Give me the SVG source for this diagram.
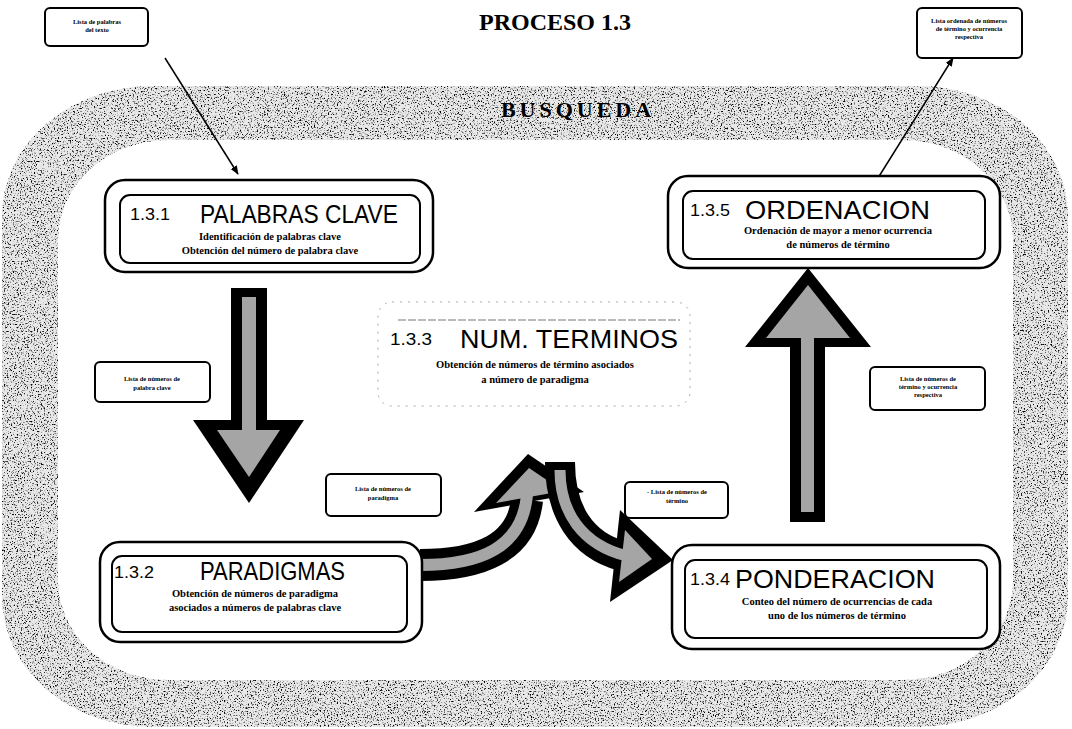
<svg xmlns="http://www.w3.org/2000/svg" width="1072" height="729" viewBox="0 0 1072 729">
<defs>
  <filter id="grain" x="0" y="0" width="1072" height="729" filterUnits="userSpaceOnUse">
    <feTurbulence type="fractalNoise" baseFrequency="0.7" numOctaves="3" seed="7"/>
    <feColorMatrix type="matrix" values="0 0 0 0 0  0 0 0 0 0  0 0 0 0 0  5 0 0 0 -2.75"/>
  </filter>
  <clipPath id="ring">
    <path clip-rule="evenodd" d="M150,86 H918 A150,130 0 0 1 1068,216 V597 A150,130 0 0 1 918,727 H152 A150,130 0 0 1 2,597 V216 A150,130 0 0 1 150,86 Z M168,140 A110,100 0 0 0 58,240 V580 A110,100 0 0 0 168,680 H903 A110,100 0 0 0 1013,580 V240 A110,100 0 0 0 903,140 Z"/>
  </clipPath>
  <marker id="ah" viewBox="0 0 10 10" refX="9" refY="5" markerWidth="9" markerHeight="9" orient="auto" markerUnits="userSpaceOnUse">
    <path d="M0,1 L10,5 L0,9 Z" fill="#000"/>
  </marker>
  <style>
    .outer{fill:#fff;stroke:#000;stroke-width:2.5}
    .inner{fill:none;stroke:#000;stroke-width:2}
    .num{font-family:"Liberation Sans",Arial,sans-serif;font-size:17px;fill:#000}
    .ttl{font-family:"Liberation Sans",Arial,sans-serif;font-size:26px;fill:#000}
    .sub{font-family:"Liberation Serif","Times New Roman",serif;font-size:10.5px;font-weight:bold;fill:#000;text-anchor:middle}
    .lbl{fill:#fff;stroke:#000;stroke-width:2}
    .lt{font-family:"Liberation Serif","Times New Roman",serif;font-size:6.5px;font-weight:bold;fill:#000;text-anchor:middle}
    .blk{fill:#000}
    .gry{fill:#a5a5a5}
  </style>
</defs>
<rect width="1072" height="729" fill="#fff"/>
<!-- speckled frame -->
<g clip-path="url(#ring)">
  <rect width="1072" height="729" fill="#e8e8e8"/>
  <rect width="1072" height="729" fill="#000" filter="url(#grain)"/>
</g>
<text x="555" y="30" font-family="Liberation Serif, Times New Roman, serif" font-size="24" font-weight="bold" text-anchor="middle">PROCESO 1.3</text>
<text x="578" y="117" font-family="Liberation Serif, Times New Roman, serif" font-size="22" font-weight="bold" letter-spacing="4" text-anchor="middle">BUSQUEDA</text>

<!-- connectors -->
<g id="connectors">
  <line x1="165" y1="58" x2="238" y2="174" stroke="#000" stroke-width="1.5" marker-end="url(#ah)"/>
  <line x1="878" y1="178" x2="953" y2="58" stroke="#000" stroke-width="1.5" marker-end="url(#ah)"/>
  <g id="arrow-down">
    <polygon class="blk" points="231,288 267,288 267,420 304,420 249,503 193,420 231,420"/>
    <polygon class="gry" points="242,297 256,297 256,430 280,430 249,477 217,430 242,430"/>
  </g>
  <g id="arrow-up">
    <polygon class="blk" points="790,522 825,522 825,347 871,347 808,268 745,347 790,347"/>
    <polygon class="gry" points="801,512 814,512 814,338 850,338 808,285 766,338 801,338"/>
  </g>
  <g id="arrow-curve1">
    <path d="M420,565 C480,565 522,548 527,500" fill="none" stroke="#000" stroke-width="32"/>
    <polygon class="blk" points="474,512 584,492 528,454"/>
    <path d="M420,565 C480,565 522,548 527,495" fill="none" stroke="#a5a5a5" stroke-width="12"/>
    <polygon class="gry" points="496,503 563,491 529,468"/>
  </g>
  <g id="arrow-curve2">
    <path d="M560,462 C560,512 582,545 622,556" fill="none" stroke="#000" stroke-width="30"/>
    <polygon class="blk" points="620,510 673,560 610,602"/>
    <path d="M560,470 C560,512 582,545 627,556" fill="none" stroke="#a5a5a5" stroke-width="11"/>
    <polygon class="gry" points="625,530 652,559 619,582"/>
  </g>
</g>

<!-- label boxes -->
<g id="lbl-palabras-texto">
  <rect class="lbl" x="45" y="8" width="103" height="38" rx="5"/>
  <text class="lt" x="97" y="24">Lista de palabras</text>
  <text class="lt" x="97" y="32">del texto</text>
</g>
<g id="lbl-ordenada">
  <rect class="lbl" x="917" y="8" width="105" height="50" rx="5"/>
  <text class="lt" x="969" y="23">Lista ordenada de números</text>
  <text class="lt" x="969" y="31">de término y ocurrencia</text>
  <text class="lt" x="969" y="39">respectiva</text>
</g>
<g id="lbl-num-palabra">
  <rect class="lbl" x="95" y="362" width="115" height="40" rx="5"/>
  <text class="lt" x="152" y="381">Lista de números de</text>
  <text class="lt" x="152" y="390">palabra clave</text>
</g>
<g id="lbl-num-paradigma">
  <rect class="lbl" x="326" y="474" width="115" height="42" rx="5"/>
  <text class="lt" x="383" y="491">Lista de números de</text>
  <text class="lt" x="383" y="500">paradigma</text>
</g>
<g id="lbl-num-termino">
  <rect class="lbl" x="625" y="482" width="103" height="36" rx="5"/>
  <text class="lt" x="677" y="494">- Lista de números de</text>
  <text class="lt" x="677" y="503">término</text>
</g>
<g id="lbl-num-ocurrencia">
  <rect class="lbl" x="870" y="367" width="115" height="43" rx="5"/>
  <text class="lt" x="928" y="381">Lista de números de</text>
  <text class="lt" x="928" y="389">término y ocurrencia</text>
  <text class="lt" x="928" y="397">respectiva</text>
</g>

<!-- nodes -->
<g id="node-131">
  <rect class="outer" x="105" y="180" width="328" height="92" rx="20"/>
  <rect class="inner" x="120" y="195" width="300" height="68" rx="10"/>
  <text class="num" x="130" y="220" textLength="40" lengthAdjust="spacingAndGlyphs">1.3.1</text>
  <text class="ttl" x="200" y="223" textLength="198" lengthAdjust="spacingAndGlyphs">PALABRAS CLAVE</text>
  <text class="sub" x="270" y="240">Identificación de palabras clave</text>
  <text class="sub" x="270" y="254">Obtención del número de palabra clave</text>
</g>
<g id="node-135">
  <rect class="outer" x="668" y="176" width="332" height="92" rx="20"/>
  <rect class="inner" x="683" y="191" width="302" height="68" rx="10"/>
  <text class="num" x="690" y="216" textLength="40" lengthAdjust="spacingAndGlyphs">1.3.5</text>
  <text class="ttl" x="745" y="219" textLength="185" lengthAdjust="spacingAndGlyphs">ORDENACION</text>
  <text class="sub" x="838" y="234">Ordenación de mayor a menor ocurrencia</text>
  <text class="sub" x="838" y="248">de números de término</text>
</g>
<g id="node-133">
  <rect x="378" y="302" width="312" height="104" rx="14" fill="#fff" stroke="#aaa" stroke-width="1" stroke-dasharray="2 6"/>
  <line x1="398" y1="320" x2="680" y2="320" stroke="#777" stroke-width="1" stroke-dasharray="8 2"/>
  <text class="num" x="390" y="345" textLength="42" lengthAdjust="spacingAndGlyphs">1.3.3</text>
  <text class="ttl" x="460" y="348" font-size="28" textLength="218" lengthAdjust="spacingAndGlyphs">NUM. TERMINOS</text>
  <text class="sub" x="535" y="368">Obtención de números de término asociados</text>
  <text class="sub" x="535" y="383">a número de paradigma</text>
</g>
<g id="node-132">
  <rect class="outer" x="100" y="542" width="322" height="100" rx="20"/>
  <rect class="inner" x="112" y="556" width="295" height="76" rx="10"/>
  <text class="num" x="114" y="578" textLength="40" lengthAdjust="spacingAndGlyphs">1.3.2</text>
  <text class="ttl" x="200" y="580" textLength="145" lengthAdjust="spacingAndGlyphs">PARADIGMAS</text>
  <text class="sub" x="255" y="597">Obtención de números de paradigma</text>
  <text class="sub" x="255" y="611">asociados a números de palabras clave</text>
</g>
<g id="node-134">
  <rect class="outer" x="672" y="545" width="328" height="104" rx="20"/>
  <rect class="inner" x="685" y="560" width="302" height="78" rx="10"/>
  <text class="num" x="690" y="585" textLength="40" lengthAdjust="spacingAndGlyphs">1.3.4</text>
  <text class="ttl" x="735" y="588" textLength="200" lengthAdjust="spacingAndGlyphs">PONDERACION</text>
  <text class="sub" x="837" y="605">Conteo del número de ocurrencias de cada</text>
  <text class="sub" x="837" y="619">uno de los números de término</text>
</g>
</svg>
